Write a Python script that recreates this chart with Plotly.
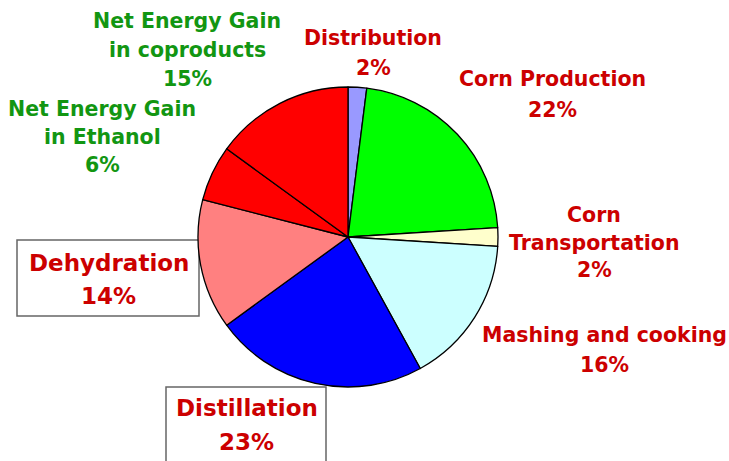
import plotly.graph_objects as go

W, H = 729, 461

# ---- data ----
categories = ["Distribution", "Corn Production", "Corn Transportation",
              "Mashing and cooking", "Distillation", "Dehydration",
              "Net Energy Gain in Ethanol", "Net Energy Gain in coproducts"]
values = [2, 22, 2, 16, 23, 14, 6, 15]
label_texts = ["Distribution", "Corn Production", "Corn<br>Transportation",
               "Mashing and cooking", "Distillation", "Dehydration",
               "Net Energy Gain<br>in Ethanol", "Net Energy Gain<br>in coproducts"]

# ---- style ----
slice_colors = ["#9999ff", "#00ff00", "#ffffcc", "#ccffff",
                "#0000ff", "#ff8080", "#ff0000", "#ff0000"]
RED = "#cc0000"
GREEN = "#129612"
text_colors = [RED, RED, RED, RED, RED, RED, GREEN, GREEN]
font_sizes = [20.5, 20.5, 20.5, 20.5, 23, 23, 20.5, 20.5]
# label center x and first-line y (pixels), line spacing
label_pos = [(373, 38, 30), (552, 79, 31), (594, 215, 27.5), (604, 335, 30),
             (247, 407.5, 34), (108.5, 263, 33), (102, 109, 28), (187, 21, 29)]

FONT = "DejaVu Sans"

def px(x):
    return x / W

def py(y):
    return 1 - y / H

cx, cy, r = 348, 237, 150

fig = go.Figure(go.Pie(
    labels=categories,
    values=values,
    sort=False,
    direction="clockwise",
    rotation=0,
    marker=dict(colors=slice_colors, line=dict(color="black", width=1.3)),
    textinfo="none",
    hoverinfo="label+percent",
    showlegend=False,
    domain=dict(x=[px(cx - r), px(cx + r)], y=[py(cy + r), py(cy - r)]),
))

annotations = []
for lab, v, col, fs, (x, y0, dy) in zip(label_texts, values, text_colors, font_sizes, label_pos):
    lines = lab.split("<br>") + [f"{v}%"]
    for i, line in enumerate(lines):
        annotations.append(dict(
            x=px(x), y=py(y0 + i * dy), xref="paper", yref="paper",
            text=f"<b>{line}</b>", showarrow=False,
            xanchor="center", yanchor="middle",
            font=dict(family=FONT, size=fs, color=col),
        ))

shapes = [
    dict(type="rect", xref="paper", yref="paper",
         x0=px(17), x1=px(199), y0=py(316), y1=py(240),
         line=dict(color="#666666", width=1.5), layer="below"),
    dict(type="rect", xref="paper", yref="paper",
         x0=px(166), x1=px(326), y0=py(480), y1=py(387),
         line=dict(color="#666666", width=1.5), layer="below"),
]

fig.update_layout(
    width=W, height=H,
    margin=dict(l=0, r=0, t=0, b=0),
    paper_bgcolor="white", plot_bgcolor="white",
    annotations=annotations,
    shapes=shapes,
)

fig.write_html("out.html", config={"displayModeBar": False},
               post_script="document.body.style.margin='0';document.body.style.overflow='hidden';")
